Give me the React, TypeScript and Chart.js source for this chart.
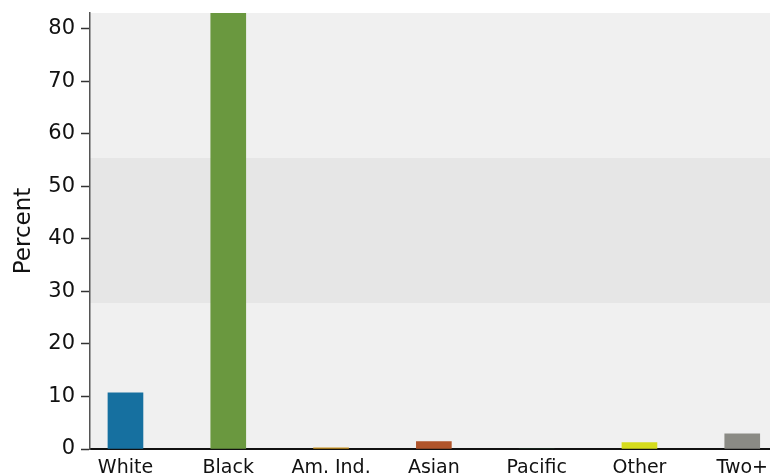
import React, { useEffect, useRef } from "react";
import { Chart, registerables } from "chart.js";

Chart.register(...registerables);

const categories = ["White", "Black", "Am. Ind.", "Asian", "Pacific", "Other", "Two+"];
const percentValues = [10.7, 85, 0.2, 1.4, 0, 1.2, 2.9];
const barColors = ["#1670a0", "#6a983f", "#c8921e", "#b0542a", "#2a5a3a", "#d5dc1c", "#8b8b85"];
const yTickValues = [0, 10, 20, 30, 40, 50, 60, 70, 80];
const yMax = 83;
const bandRange = [27.8, 55.4];

const FONT = "'DejaVu Sans', Verdana, sans-serif";

const bgPlugin = {
  id: "bgBand",
  beforeDraw(chart: any) {
    const { ctx, chartArea, scales } = chart;
    if (!chartArea) return;
    ctx.save();
    ctx.fillStyle = "#f0f0f0";
    ctx.fillRect(chartArea.left, chartArea.top, chartArea.right - chartArea.left, chartArea.bottom - chartArea.top);
    const y1 = scales.y.getPixelForValue(bandRange[1]);
    const y0 = scales.y.getPixelForValue(bandRange[0]);
    ctx.fillStyle = "#e6e6e6";
    ctx.fillRect(chartArea.left, y1, chartArea.right - chartArea.left, y0 - y1);
    ctx.restore();
  },
};

export default function App() {
  const ref = useRef<HTMLCanvasElement | null>(null);
  useEffect(() => {
    document.body.style.margin = "0";
    const canvas = ref.current;
    if (!canvas) return;
    const chart = new Chart(canvas, {
      type: "bar",
      data: {
        datasets: [
          {
            data: categories.map((_, i) => ({ x: i, y: percentValues[i] })),
            backgroundColor: barColors,
            borderWidth: 0,
            barThickness: 35,
          },
        ],
      },
      options: {
        animation: false,
        responsive: false,
        maintainAspectRatio: false,
        layout: { padding: { top: 13, right: 0, left: 0, bottom: 0 } },
        plugins: { legend: { display: false }, tooltip: { enabled: false } },
        scales: {
          x: {
            type: "linear",
            offset: false,
            min: -0.345,
            max: 6.27,
            afterFit: (s: any) => {
              s.height = 27;
              s.paddingLeft = 0;
              s.paddingRight = 0;
            },
            grid: { display: true, drawOnChartArea: false, drawTicks: false },
            border: { display: true, color: "#111", width: 2 },
            ticks: {
              stepSize: 1,
              includeBounds: false,
              autoSkip: false,
              maxRotation: 0,
              padding: 8,
              color: "#111",
              font: { family: FONT, size: 19 },
              callback: (v: any) => {
                const i = Math.round(Number(v));
                return Number.isInteger(Number(v)) && categories[i] ? categories[i] : "";
              },
            },
          },
          y: {
            type: "linear",
            min: 0,
            max: yMax,
            afterFit: (s: any) => {
              s.width = 90;
              s.paddingTop = 0;
              s.paddingBottom = 0;
            },
            afterBuildTicks: (s: any) => {
              s.ticks = yTickValues.map((v) => ({ value: v }));
            },
            grid: { display: true, drawOnChartArea: false, drawTicks: true, tickLength: 9, tickColor: "#333", tickWidth: 1.5 },
            border: { display: true, color: "#555", width: 1.5 },
            ticks: {
              padding: 6,
              color: "#111",
              font: { family: FONT, size: 21 },
            },
            title: {
              display: true,
              text: "Percent",
              color: "#111",
              font: { family: FONT, size: 23 },
              padding: { top: 10, bottom: 0 },
            },
          },
        },
      },
      plugins: [bgPlugin],
    });
    return () => chart.destroy();
  }, []);
  return <canvas ref={ref} width={770} height={476} style={{ display: "block" }} />;
}
